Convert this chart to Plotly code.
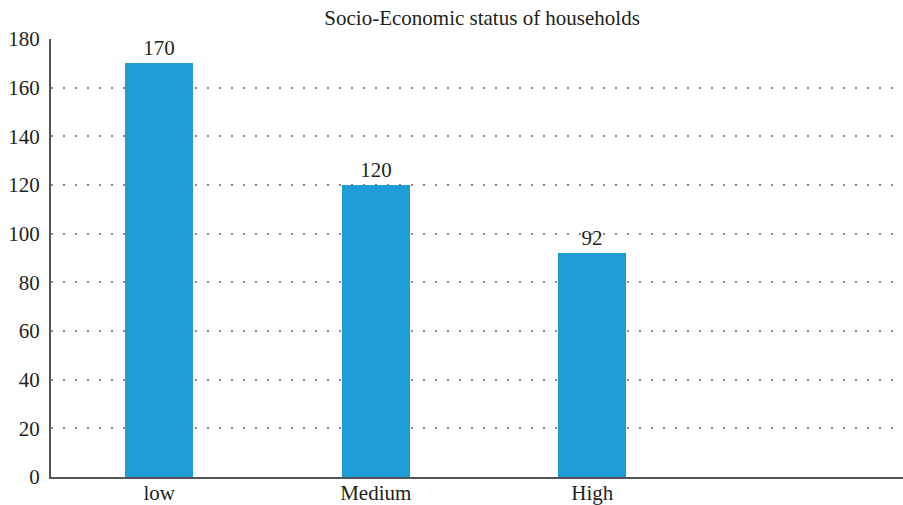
import plotly.graph_objects as go

categories = ["low", "Medium", "High"]
values = [170, 120, 92]
y_ticks = [0, 20, 40, 60, 80, 100, 120, 140, 160, 180]

positions = list(range(len(categories)))
font_family = "Liberation Serif"
text_color = "#231f20"

fig = go.Figure()
fig.add_trace(go.Bar(
    x=positions,
    y=values,
    width=0.314,
    marker=dict(color="#1e9cd7", line=dict(width=0)),
    text=[str(v) for v in values],
    textposition="outside",
    cliponaxis=False,
    textfont=dict(family=font_family, size=21, color=text_color),
))

fig.update_layout(
    width=903, height=505,
    margin=dict(l=51, r=0, t=39, b=28),
    paper_bgcolor="white", plot_bgcolor="white",
    showlegend=False,
    title=dict(text="Socio-Economic status of households", xref="paper", x=0.506, xanchor="center",
               yref="container", y=1 - 18 / 505, yanchor="middle",
               font=dict(family=font_family, size=21, color=text_color)),
    xaxis=dict(
        range=[-0.5, 3.435],
        tickvals=positions, ticktext=categories,
        showgrid=False, zeroline=False, automargin=False,
        showline=True, linecolor="#555555", linewidth=2,
        ticks="", ticklabelstandoff=-4,
        tickfont=dict(family=font_family, size=21, color=text_color),
    ),
    yaxis=dict(
        range=[0, 180],
        tickvals=y_ticks, automargin=False,
        showgrid=True, gridcolor="#8a8a8a", gridwidth=1.5, griddash="1.5px,10.5px",
        zeroline=False,
        showline=True, linecolor="#555555", linewidth=2,
        ticks="outside", tickcolor="rgba(0,0,0,0)", ticklen=5,
        tickfont=dict(family=font_family, size=21, color=text_color),
    ),
    bargap=0,
)

fig.write_html("out.html")
